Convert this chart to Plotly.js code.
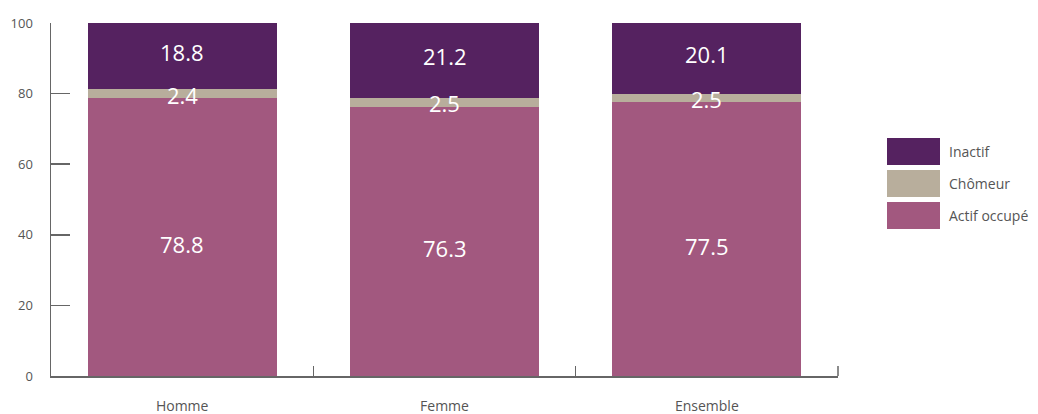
<!DOCTYPE html>
<html><head><meta charset="utf-8">
<script src="https://cdn.plot.ly/plotly-3.0.1.min.js"></script>
<style>body{margin:0;background:#fff}#chart{width:1038px;height:414px}</style>
</head><body><div id="chart"></div>
<script>
const categories = ["Homme", "Femme", "Ensemble"];
const actifOccupe = [78.8, 76.3, 77.5];
const chomeur = [2.4, 2.5, 2.5];
const inactif = [18.8, 21.2, 20.1];
const seriesNames = ["Actif occupé", "Chômeur", "Inactif"];
const seriesColors = ["#a2587f", "#b8ae9c", "#552260"];
const yTicks = [0, 20, 40, 60, 80, 100];

const FONT = "Open Sans, Noto Sans, sans-serif";
const values = [actifOccupe, chomeur, inactif];
const labelShift = [-7, -1, 4];
const traces = values.map((v, i) => ({
  type: "bar", x: categories, y: v, name: seriesNames[i],
  marker: {color: seriesColors[i], line: {width: 0}},
  hoverinfo: "none", showlegend: false
}));

const shapes = [], annotations = [];
// value labels, centred in each stacked segment
categories.forEach((c, ci) => {
  let base = 0;
  values.forEach((v, si) => {
    annotations.push({x: c, y: base + v[ci] / 2, xref: "x", yref: "y", text: v[ci].toFixed(1),
      showarrow: false, xanchor: "center", yanchor: "middle", yshift: labelShift[si],
      font: {size: 22, color: "#ffffff", family: FONT}});
    base += v[ci];
  });
});

// right-end x tick
shapes.push({type: "line", xref: "paper", yref: "paper", x0: 1, x1: 1, y0: 0, y1: 10 / 353,
  line: {color: "#666666", width: 1.5}});

// legend (top to bottom: Inactif, Chômeur, Actif occupé)
const legOrder = [2, 1, 0];
legOrder.forEach((si, k) => {
  const y0 = 138 + k * 32;
  shapes.push({type: "rect", xref: "paper", yref: "paper",
    x0: (887 - 51) / 787, x1: (940 - 51) / 787,
    y0: 1 - (y0 + 27 - 23) / 353, y1: 1 - (y0 - 23) / 353,
    fillcolor: seriesColors[si], line: {width: 0}});
  annotations.push({xref: "paper", yref: "paper", x: (947 - 51) / 787, y: 1 - (y0 + 13.5 - 23) / 353,
    xanchor: "left", yanchor: "middle", text: seriesNames[si], showarrow: false,
    font: {size: 14, color: "#555555", family: FONT}});
});

const layout = {
  width: 1038, height: 414,
  margin: {l: 51, r: 200, t: 23, b: 38},
  paper_bgcolor: "#ffffff", plot_bgcolor: "#ffffff",
  barmode: "stack", bargap: 0.28,
  showlegend: false,
  font: {family: FONT, color: "#555555"},
  xaxis: {type: "category", showline: true, linecolor: "#666666", linewidth: 1.5,
    ticks: "inside", tickson: "boundaries", ticklen: 10, tickcolor: "#666666", tickwidth: 1.5,
    showgrid: false, zeroline: false, ticklabelstandoff: 17,
    tickfont: {size: 14, color: "#555555"}, fixedrange: true},
  yaxis: {range: [0, 100], tickvals: yTicks, showline: true, linecolor: "#666666", linewidth: 1.5,
    ticks: "inside", ticklen: 19, tickcolor: "#666666", tickwidth: 1.5,
    showgrid: false, zeroline: false, ticklabelstandoff: 14,
    tickfont: {size: 13, color: "#555555"}, fixedrange: true},
  shapes: shapes, annotations: annotations
};
Plotly.newPlot("chart", traces, layout, {displayModeBar: false, staticPlot: true});
</script></body></html>
